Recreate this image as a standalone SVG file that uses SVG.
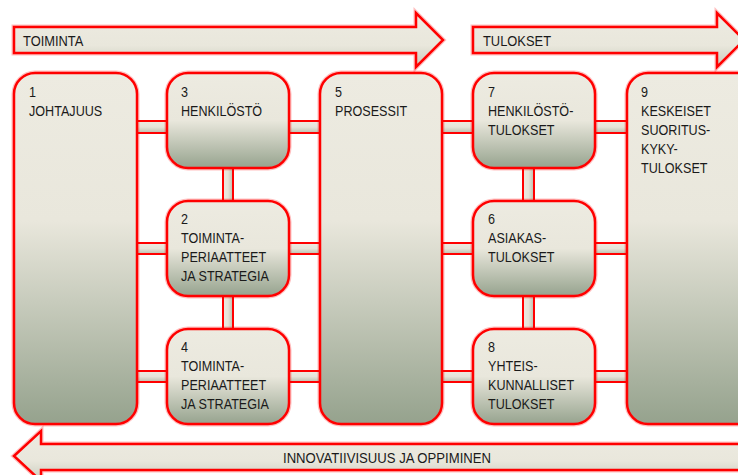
<svg xmlns="http://www.w3.org/2000/svg" width="738" height="475" viewBox="0 0 738 475">
  <defs>
    <linearGradient id="nodeFill" x1="0" y1="0" x2="0" y2="1">
      <stop offset="0" stop-color="#EDEBE1"/>
      <stop offset="0.5" stop-color="#E9E7DC"/>
      <stop offset="1" stop-color="#96A38E"/>
    </linearGradient>
    <linearGradient id="tallFill" x1="0" y1="0" x2="0" y2="1">
      <stop offset="0" stop-color="#EDEBE1"/>
      <stop offset="0.42" stop-color="#E9E7DC"/>
      <stop offset="1" stop-color="#95A28D"/>
    </linearGradient>
    <linearGradient id="arrowFill" x1="0" y1="0" x2="0" y2="1">
      <stop offset="0" stop-color="#EDEBE1"/>
      <stop offset="0.6" stop-color="#E9E7DC"/>
      <stop offset="1" stop-color="#C9CCBD"/>
    </linearGradient>
    <linearGradient id="barH" x1="0" y1="0" x2="0" y2="1">
      <stop offset="0" stop-color="#EDEBE1"/>
      <stop offset="0.5" stop-color="#E6E4D9"/>
      <stop offset="1" stop-color="#B9BFAE"/>
    </linearGradient>
    <linearGradient id="barV" x1="0" y1="0" x2="1" y2="0">
      <stop offset="0" stop-color="#EDEBE1"/>
      <stop offset="0.5" stop-color="#E6E4D9"/>
      <stop offset="1" stop-color="#B9BFAE"/>
    </linearGradient>
  </defs>
  <style>
    .box { stroke: #FF0000; stroke-width: 2.5; }
    .halo { fill: none; stroke: #FF0000; stroke-opacity: 0.25; stroke-width: 5; }
    .bar { stroke: #FF0000; stroke-width: 2; }
    .lbl { font-family: "Liberation Sans", Arial, sans-serif; font-size: 15px; fill: #1A1A1A; }
  </style>

  <!-- direction arrows -->
  <g id="arrow-toiminta">
    <polygon class="halo" points="14,27 416,27 416,13 443,40 416,67 416,53 14,53"/>
    <polygon class="box" fill="url(#arrowFill)" points="14,27 416,27 416,13 443,40 416,67 416,53 14,53"/>
    <g transform="translate(23,0) scale(0.86,1)"><text class="lbl" x="0" y="46">TOIMINTA</text></g>
  </g>
  <g id="arrow-tulokset">
    <polygon class="halo" points="473,27 717,27 717,13 744,40 717,67 717,53 473,53"/>
    <polygon class="box" fill="url(#arrowFill)" points="473,27 717,27 717,13 744,40 717,67 717,53 473,53"/>
    <g transform="translate(483,0) scale(0.86,1)"><text class="lbl" x="0" y="46">TULOKSET</text></g>
  </g>
  <g id="arrow-innovatiivisuus">
    <polygon class="halo" points="14,456 41,431 41,444 760,444 760,470 41,470 41,481"/>
    <polygon class="box" fill="url(#arrowFill)" points="14,456 41,431 41,444 760,444 760,470 41,470 41,481"/>
    <text class="lbl" x="283" y="463" textLength="208" lengthAdjust="spacingAndGlyphs">INNOVATIIVISUUS JA OPPIMINEN</text>
  </g>

  <!-- connecting bars -->
  <g id="connectors">
    <rect class="bar" fill="url(#barH)" x="40" y="121" width="700" height="12"/>
    <rect class="bar" fill="url(#barH)" x="40" y="243" width="700" height="11"/>
    <rect class="bar" fill="url(#barH)" x="40" y="371" width="700" height="11"/>
    <rect class="bar" fill="url(#barV)" x="223" y="150" width="10" height="200"/>
    <rect class="bar" fill="url(#barV)" x="523" y="150" width="11" height="200"/>
  </g>

  <!-- nodes -->
  <g id="node-1">
    <rect class="halo" x="14" y="73" width="123" height="351" rx="21"/>
    <rect class="box" fill="url(#tallFill)" x="14" y="73" width="123" height="351" rx="21"/>
    <g transform="translate(29,0) scale(0.84,1)">
      <text class="lbl"><tspan x="0" y="97">1</tspan><tspan x="0" y="116">JOHTAJUUS</tspan></text>
    </g>
  </g>
  <g id="node-3">
    <rect class="halo" x="167" y="73" width="122" height="95" rx="21"/>
    <rect class="box" fill="url(#nodeFill)" x="167" y="73" width="122" height="95" rx="21"/>
    <g transform="translate(181,0) scale(0.84,1)">
      <text class="lbl"><tspan x="0" y="97">3</tspan><tspan x="0" y="116">HENKILÖSTÖ</tspan></text>
    </g>
  </g>
  <g id="node-2">
    <rect class="halo" x="167" y="201" width="122" height="95" rx="21"/>
    <rect class="box" fill="url(#nodeFill)" x="167" y="201" width="122" height="95" rx="21"/>
    <g transform="translate(181,0) scale(0.84,1)">
      <text class="lbl"><tspan x="0" y="224">2</tspan><tspan x="0" y="243">TOIMINTA-</tspan><tspan x="0" y="262">PERIAATTEET</tspan><tspan x="0" y="281">JA STRATEGIA</tspan></text>
    </g>
  </g>
  <g id="node-4">
    <rect class="halo" x="167" y="329" width="122" height="95" rx="21"/>
    <rect class="box" fill="url(#nodeFill)" x="167" y="329" width="122" height="95" rx="21"/>
    <g transform="translate(181,0) scale(0.84,1)">
      <text class="lbl"><tspan x="0" y="352">4</tspan><tspan x="0" y="371">TOIMINTA-</tspan><tspan x="0" y="390">PERIAATTEET</tspan><tspan x="0" y="409">JA STRATEGIA</tspan></text>
    </g>
  </g>
  <g id="node-5">
    <rect class="halo" x="320" y="73" width="122" height="351" rx="21"/>
    <rect class="box" fill="url(#tallFill)" x="320" y="73" width="122" height="351" rx="21"/>
    <g transform="translate(335,0) scale(0.84,1)">
      <text class="lbl"><tspan x="0" y="97">5</tspan><tspan x="0" y="116">PROSESSIT</tspan></text>
    </g>
  </g>
  <g id="node-7">
    <rect class="halo" x="473" y="73" width="122" height="95" rx="21"/>
    <rect class="box" fill="url(#nodeFill)" x="473" y="73" width="122" height="95" rx="21"/>
    <g transform="translate(488,0) scale(0.84,1)">
      <text class="lbl"><tspan x="0" y="97">7</tspan><tspan x="0" y="116">HENKILÖSTÖ-</tspan><tspan x="0" y="135">TULOKSET</tspan></text>
    </g>
  </g>
  <g id="node-6">
    <rect class="halo" x="473" y="201" width="122" height="95" rx="21"/>
    <rect class="box" fill="url(#nodeFill)" x="473" y="201" width="122" height="95" rx="21"/>
    <g transform="translate(488,0) scale(0.84,1)">
      <text class="lbl"><tspan x="0" y="224">6</tspan><tspan x="0" y="243">ASIAKAS-</tspan><tspan x="0" y="262">TULOKSET</tspan></text>
    </g>
  </g>
  <g id="node-8">
    <rect class="halo" x="473" y="329" width="122" height="95" rx="21"/>
    <rect class="box" fill="url(#nodeFill)" x="473" y="329" width="122" height="95" rx="21"/>
    <g transform="translate(488,0) scale(0.84,1)">
      <text class="lbl"><tspan x="0" y="352">8</tspan><tspan x="0" y="371">YHTEIS-</tspan><tspan x="0" y="390">KUNNALLISET</tspan><tspan x="0" y="409">TULOKSET</tspan></text>
    </g>
  </g>
  <g id="node-9">
    <rect class="halo" x="627" y="73" width="135" height="351" rx="21"/>
    <rect class="box" fill="url(#tallFill)" x="627" y="73" width="135" height="351" rx="21"/>
    <g transform="translate(641,0) scale(0.84,1)">
      <text class="lbl"><tspan x="0" y="97">9</tspan><tspan x="0" y="116">KESKEISET</tspan><tspan x="0" y="135">SUORITUS-</tspan><tspan x="0" y="154">KYKY-</tspan><tspan x="0" y="173">TULOKSET</tspan></text>
    </g>
  </g>
</svg>
